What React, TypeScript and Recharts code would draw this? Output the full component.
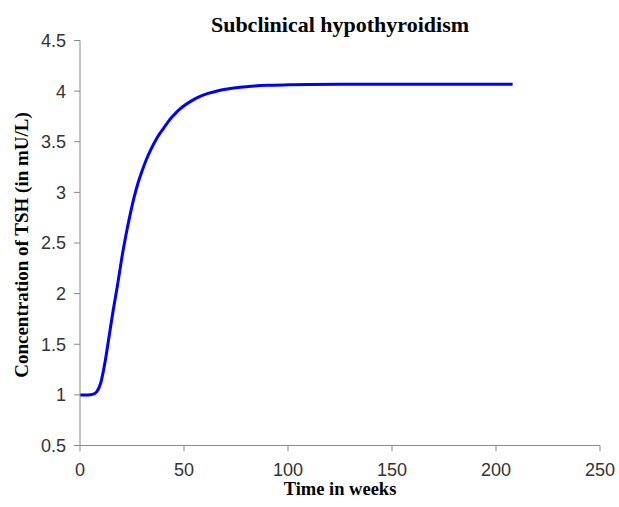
import { Line, LineChart, XAxis, YAxis } from "recharts";

// TSH response over time (weeks), read from the simulation output
const weeks = [
  0, 2, 4, 6, 8, 10, 12, 14, 16, 18, 20, 22, 24, 26, 28, 30, 32, 34, 36, 38, 40, 42, 44, 46, 48, 50, 54, 58,
  62, 66, 70, 75, 80, 90, 100, 110, 125, 150, 180, 208,
];
const tsh = [
  1.0, 1.0, 1.0, 1.005, 1.03, 1.12, 1.32, 1.58, 1.84, 2.08, 2.34, 2.57, 2.77, 2.95, 3.1, 3.22, 3.33, 3.42, 3.5,
  3.57, 3.628, 3.687, 3.739, 3.783, 3.822, 3.855, 3.909, 3.95, 3.98, 4.002, 4.019, 4.034, 4.044, 4.057, 4.062,
  4.065, 4.067, 4.068, 4.068, 4.068,
];
const xTicks = [0, 50, 100, 150, 200, 250];
const yTicks = [0.5, 1, 1.5, 2, 2.5, 3, 3.5, 4, 4.5];

const rows = weeks.map((week, i) => ({ week, tsh: tsh[i] }));

const W = 619;
const H = 507;
const PLOT_LEFT = 80;
const PLOT_RIGHT = 600;
const PLOT_TOP = 40.5;
const PLOT_BOTTOM = 445.5;

const serifBold = { fontFamily: "'Liberation Serif', 'Times New Roman', serif", fontWeight: 700, fill: "#000" };
const tickStyle = { fontFamily: "'Liberation Sans', Arial, sans-serif", fontSize: 18, fill: "#333" };

export default function App() {
  return (
    <div style={{ position: "absolute", left: 0, top: 0, width: W, height: H, background: "#fff" }}>
      <LineChart
        width={W}
        height={H}
        data={rows}
        margin={{ top: PLOT_TOP, right: W - PLOT_RIGHT, left: 0, bottom: 0 }}
      >
        <XAxis
          type="number"
          dataKey="week"
          domain={[0, 250]}
          ticks={xTicks}
          height={H - PLOT_BOTTOM}
          stroke="#8a8a8a"
          tickSize={6}
          tickMargin={12}
          tick={tickStyle}
        />
        <YAxis
          type="number"
          domain={[0.5, 4.5]}
          ticks={yTicks}
          width={PLOT_LEFT}
          stroke="#8a8a8a"
          tickSize={6}
          tickMargin={8}
          tick={tickStyle}
        />
        <Line
          type="monotone"
          dataKey="tsh"
          stroke="#0000ff"
          strokeWidth={3}
          dot={false}
          isAnimationActive={false}
        />
        <text x={(PLOT_LEFT + PLOT_RIGHT) / 2} y={32} textAnchor="middle" fontSize={22} style={serifBold}>
          Subclinical hypothyroidism
        </text>
        <text x={(PLOT_LEFT + PLOT_RIGHT) / 2} y={495} textAnchor="middle" fontSize={18.5} style={serifBold}>
          Time in weeks
        </text>
        <text
          x={28}
          y={(PLOT_TOP + PLOT_BOTTOM) / 2 + 2}
          textAnchor="middle"
          fontSize={19}
          transform={`rotate(-90 28 ${(PLOT_TOP + PLOT_BOTTOM) / 2 + 2})`}
          style={serifBold}
        >
          Concentration of TSH (in mU/L)
        </text>
      </LineChart>
    </div>
  );
}
